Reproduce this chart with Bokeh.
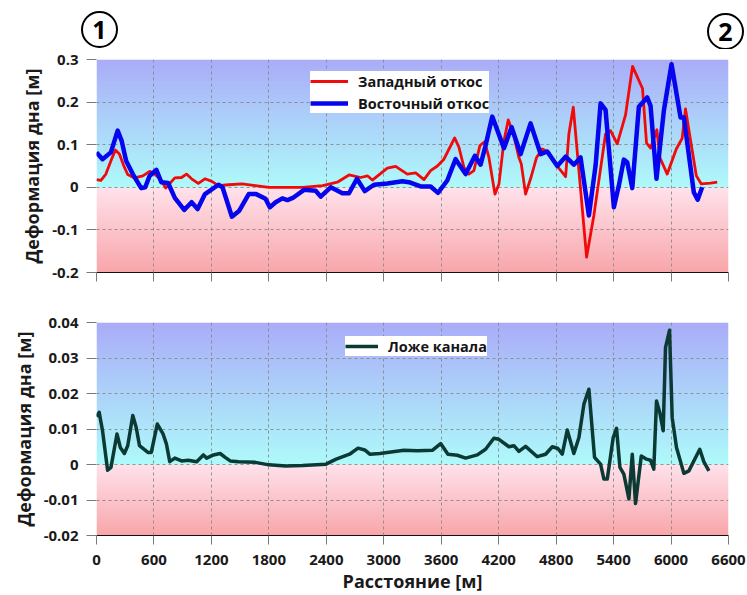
import numpy as np
from bokeh.plotting import figure
from bokeh.layouts import column
from bokeh.models import Range1d, FixedTicker, Div
from bokeh.embed import file_html
from bokeh.resources import INLINE

# ---------------- data ----------------
x_ticks = [0, 600, 1200, 1800, 2400, 3000, 3600, 4200, 4800, 5400, 6000, 6600]
x_tick_labels = ["0", "600", "1200", "1800", "2400", "3000", "3600", "4200", "4800", "5400", "6000", "6600"]

top_y_ticks = [-0.2, -0.1, 0.0, 0.1, 0.2, 0.3]
top_y_labels = ["-0.2", "-0.1", "0", "0.1", "0.2", "0.3"]
bot_y_ticks = [-0.02, -0.01, 0.0, 0.01, 0.02, 0.03, 0.04]
bot_y_labels = ["-0.02", "-0.01", "0", "0.01", "0.02", "0.03", "0.04"]

west_x = [0, 46, 98, 151, 197, 239, 284, 326, 397, 484, 555, 607, 677, 723, 765, 818, 888, 940,
          993, 1063, 1133, 1204, 1274, 1379, 1519, 1659, 1800, 2151, 2362, 2515, 2637, 2759, 2829,
          2881, 3037, 3124, 3246, 3333, 3420, 3489, 3560, 3628, 3691, 3740, 3785, 3837, 3889, 3941,
          4004, 4053, 4098, 4161, 4203, 4255, 4300, 4352, 4411, 4436, 4481, 4533, 4596, 4655, 4725,
          4777, 4864, 4899, 4933, 4979, 5021, 5118, 5194, 5316, 5368, 5438, 5525, 5598, 5702, 5744,
          5786, 5852, 5883, 5960, 6055, 6116, 6151, 6203, 6264, 6316, 6412, 6482]
west_y = [0.018, 0.016, 0.031, 0.0625, 0.0875, 0.078, 0.051, 0.030, 0.022, 0.027, 0.0375, 0.031,
          0.016, -0.002, 0.009, 0.022, 0.023, 0.031, 0.020, 0.009, 0.020, 0.014, 0.004, 0.006, 0.008,
          0.004, 0.000, 0.000, 0.004, 0.012, 0.029, 0.023, 0.027, 0.017, 0.045, 0.049, 0.031, 0.034,
          0.018, 0.039, 0.050, 0.066, 0.094, 0.116, 0.094, 0.047, 0.031, 0.039, 0.098, 0.107, 0.070,
          -0.016, 0.008, 0.109, 0.158, 0.127, 0.070, 0.055, -0.016, 0.020, 0.070, 0.090, 0.082,
          0.059, 0.035, 0.025, 0.125, 0.188, 0.082, -0.164, -0.066, 0.125, 0.133, 0.102, 0.170,
          0.284, 0.232, 0.104, 0.092, 0.135, 0.070, 0.031, 0.090, 0.115, 0.184, 0.111, 0.027, 0.008,
          0.010, 0.012]

east_x = [0, 63, 150, 221, 263, 309, 379, 467, 509, 555, 625, 677, 748, 818, 916, 993, 1056, 1133,
          1274, 1316, 1414, 1491, 1590, 1667, 1765, 1810, 1871, 1941, 1994, 2050, 2167, 2289, 2341,
          2446, 2568, 2637, 2720, 2801, 2898, 3037, 3194, 3263, 3385, 3489, 3566, 3663, 3750, 3855,
          3952, 4011, 4063, 4133, 4255, 4335, 4429, 4533, 4638, 4707, 4812, 4899, 4985, 5055, 5142,
          5212, 5264, 5316, 5403, 5455, 5507, 5542, 5595, 5664, 5751, 5786, 5848, 5925, 6005, 6099,
          6134, 6238, 6278, 6325]
east_y = [0.082, 0.066, 0.082, 0.133, 0.109, 0.0625, 0.031, -0.002, 0.000, 0.027, 0.041, 0.012,
          0.010, -0.025, -0.053, -0.035, -0.051, -0.016, 0.006, 0.000, -0.069, -0.055, -0.016,
          -0.016, -0.027, -0.047, -0.035, -0.026, -0.030, -0.025, -0.006, -0.008, -0.022, 0.000,
          -0.014, -0.014, 0.020, -0.009, 0.006, 0.009, 0.014, 0.012, 0.002, 0.002, -0.013, 0.016,
          0.066, 0.031, 0.074, 0.053, 0.098, 0.166, 0.092, 0.141, 0.078, 0.150, 0.078, 0.084, 0.050,
          0.072, 0.053, 0.070, -0.066, 0.051, 0.197, 0.182, -0.047, 0.004, 0.065, 0.059, -0.002,
          0.189, 0.211, 0.191, 0.020, 0.180, 0.289, 0.164, 0.164, -0.012, -0.029, 0.000]

bed_x = [0, 28, 63, 116, 151, 214, 249, 291, 326, 379, 414, 449, 537, 572, 635, 695, 730, 765, 818,
         888, 958, 1046, 1116, 1151, 1221, 1291, 1344, 1396, 1484, 1659, 1800, 1976, 2151, 2397,
         2503, 2643, 2731, 2801, 2854, 2959, 3037, 3211, 3351, 3507, 3594, 3670, 3768, 3855, 3977,
         4063, 4150, 4202, 4307, 4359, 4411, 4481, 4603, 4690, 4760, 4819, 4864, 4916, 4985, 5038,
         5090, 5142, 5201, 5264, 5299, 5334, 5396, 5431, 5466, 5507, 5560, 5595, 5629, 5689, 5744,
         5786, 5820, 5848, 5883, 5918, 5942, 5984, 6012, 6057, 6134, 6186, 6300, 6342, 6395]
bed_y = [0.0135, 0.0147, 0.0095, -0.0016, -0.0008, 0.0086, 0.0048, 0.0031, 0.0053, 0.0138, 0.0105,
         0.0053, 0.0034, 0.0034, 0.0114, 0.0086, 0.0058, 0.0008, 0.0018, 0.0010, 0.0012, 0.0008,
         0.0027, 0.0018, 0.0027, 0.0031, 0.0020, 0.0010, 0.0008, 0.0006, -0.0001, -0.0004, -0.0003,
         0.0001, 0.0015, 0.0029, 0.0046, 0.0041, 0.0029, 0.0031, 0.0034, 0.0040, 0.0039, 0.0040,
         0.0059, 0.0029, 0.0026, 0.0018, 0.0027, 0.0043, 0.0074, 0.0071, 0.0050, 0.0053, 0.0037,
         0.0051, 0.0022, 0.0029, 0.0050, 0.0045, 0.0029, 0.0097, 0.0031, 0.0076, 0.0170, 0.0212,
         0.0020, 0.0001, -0.0041, -0.0041, 0.0076, 0.0102, -0.0008, -0.0027, -0.0097, 0.0029,
         -0.0110, 0.0024, 0.0015, 0.0012, -0.0013, 0.0179, 0.0146, 0.0095, 0.0329, 0.0378, 0.0132,
         0.0048, -0.0025, -0.0018, 0.0043, 0.0008, -0.0018]

assert len(west_x) == len(west_y)
assert len(east_x) == len(east_y)
assert len(bed_x) == len(bed_y)

series_names = ["Западный откос", "Восточный откос", "Ложе канала"]
markers_text = ["1", "2"]

# ---------------- style ----------------
FONT = "Open Sans"
W = 747
LEFT, RIGHT = 96, 19
C_TOP = (170, 172, 248)
C_ZERO_UP = (174, 250, 250)
C_ZERO_DN = (255, 226, 236)
C_BOT = (248, 166, 170)


def gradient_image(ymin, ymax, n):
    rgba = np.zeros((n, 1, 4), dtype=np.uint8)
    for i in range(n):
        yv = ymin + (i + 0.5) * (ymax - ymin) / n
        if yv >= 0:
            t = yv / ymax
            c = [C_ZERO_UP[k] + (C_TOP[k] - C_ZERO_UP[k]) * t for k in range(3)]
        else:
            t = yv / ymin
            c = [C_ZERO_DN[k] + (C_BOT[k] - C_ZERO_DN[k]) * t for k in range(3)]
        rgba[i, 0, :3] = [int(round(v)) for v in c]
        rgba[i, 0, 3] = 255
    return rgba.view(np.uint32).reshape(n, 1)


def make_panel(height, top, bottom, yr, yticks, ylabels, show_xlabels):
    p = figure(width=W, height=height, output_backend="svg", toolbar_location=None,
               x_range=Range1d(0, 6600), y_range=Range1d(*yr),
               min_border_left=LEFT, min_border_right=RIGHT,
               min_border_top=top, min_border_bottom=bottom)
    p.outline_line_color = None
    p.background_fill_color = "white"
    p.image_rgba(image=[gradient_image(yr[0], yr[1], 600)], x=0, y=yr[0],
                 dw=6600, dh=yr[1] - yr[0], level="image")
    for g in (p.xgrid, p.ygrid):
        g.grid_line_color = "#8a8a8a"
        g.grid_line_dash = "3 3"
        g.grid_line_width = 1
        g.grid_line_alpha = 0.9
    p.xaxis.ticker = FixedTicker(ticks=x_ticks)
    p.yaxis.ticker = FixedTicker(ticks=yticks)
    p.xgrid.ticker = FixedTicker(ticks=x_ticks)
    p.ygrid.ticker = FixedTicker(ticks=yticks)
    p.yaxis.major_label_overrides = {t: l for t, l in zip(yticks, ylabels)}
    if show_xlabels:
        p.xaxis.major_label_overrides = {t: l for t, l in zip(x_ticks, x_tick_labels)}
    else:
        p.xaxis.major_label_overrides = {t: "" for t in x_ticks}
    for ax in (p.xaxis, p.yaxis):
        ax.minor_tick_line_color = None
        ax.major_tick_in = 0
        ax.major_tick_line_color = "#7a7a7a"
        ax.major_label_text_font = FONT
        ax.major_label_text_font_style = "bold"
        ax.major_label_text_font_size = "15px"
        ax.major_label_text_color = "#1a1a1a"
        ax.axis_label_text_font = FONT
        ax.axis_label_text_font_style = "bold"
        ax.axis_label_text_font_size = "18px"
        ax.axis_label_text_color = "#1a1a1a"
    p.yaxis.axis_line_color = None
    p.yaxis.major_tick_out = 10
    p.yaxis.major_label_standoff = 8
    p.yaxis.axis_label_standoff = 5
    p.yaxis.axis_label = "Деформация дна [м]"
    p.xaxis.axis_line_color = "#111111"
    p.xaxis.axis_line_width = 1
    p.xaxis.major_tick_out = 9
    if show_xlabels:
        p.xaxis.major_label_standoff = 10
        p.xaxis.axis_label = "Расстояние [м]"
        p.xaxis.axis_label_standoff = 1
    else:
        p.xaxis.major_label_standoff = 0
    return p


# header strip with the circled section numbers (HTML text)
circle_css = ("position:absolute;box-sizing:border-box;width:37px;height:37px;"
              "border:2.5px solid #000;border-radius:50%;"
              "font-family:'Open Sans';font-weight:bold;font-size:25px;line-height:32px;"
              "text-align:center;color:#000;")
spans = "".join(
    f'<span style="{circle_css}left:{lx}px;top:{ty}px;">{t}</span>'
    for t, lx, ty in zip(markers_text, [81, 707], [11, 13])
)
hdr = Div(text=f'<div style="position:relative;width:{W}px;height:49px;overflow:hidden;">{spans}</div>',
          width=W, height=49, margin=0)

# top panel
p1 = make_panel(241, 10, 18, (-0.2, 0.3), top_y_ticks, top_y_labels, False)
p1.line(west_x, west_y, line_color="#f00a0a", line_width=2.8, line_join="round",
        legend_label=series_names[0])
p1.line(east_x, east_y, line_color="#0505ee", line_width=4.5, line_join="round",
        legend_label=series_names[1])

# bottom panel
p2 = make_panel(305, 32, 60, (-0.02, 0.04), bot_y_ticks, bot_y_labels, True)
p2.line(bed_x, bed_y, line_color="#0b3a35", line_width=3.5, line_join="round",
        legend_label=series_names[2])

for p, loc, gw in ((p1, (214, 159), 38), (p2, (249, 179), 33)):
    lg = p.legend[0]
    lg.location = loc
    lg.margin = 0
    lg.padding = 3
    lg.spacing = 2
    lg.glyph_width = gw
    lg.glyph_height = 20
    lg.label_height = 20
    lg.label_standoff = 10
    lg.border_line_color = None
    lg.background_fill_color = "white"
    lg.background_fill_alpha = 1.0
    lg.label_text_font = FONT
    lg.label_text_font_style = "bold"
    lg.label_text_font_size = "14.5px"
    lg.label_text_color = "#151515"

layout = column(hdr, p1, p2, spacing=0)
open("out.html", "w").write(file_html(layout, INLINE))
